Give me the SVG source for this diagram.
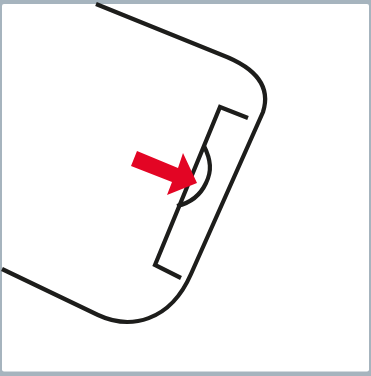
<svg xmlns="http://www.w3.org/2000/svg" width="371" height="376" viewBox="0 0 371 376">
<style>.l{fill:none;stroke:#1d1d1b;stroke-width:4.2;stroke-linejoin:miter}</style>
<rect width="371" height="376" fill="#a6b4be"/>
<rect x="2" y="4" width="367" height="367.500" rx="2" fill="#fff"/>
<g id="device"><path class="l" d="M96 4L222 55C256 68 271 87 263 112L191 274C170 322 130 330 98 315L2 269"/></g>
<g id="slot"><path class="l" d="M248 118L220 107L155 265L181 278"/></g>
<g id="notch"><path class="l" d="M204 146C211 160 212 171 206 183C200 196 190 203 177 206"/></g>
<g id="arrow"><path fill="#e30524" d="M137 151L178 168L183 153L197 183L167 195L172 182L131 166Z"/></g>
</svg>
